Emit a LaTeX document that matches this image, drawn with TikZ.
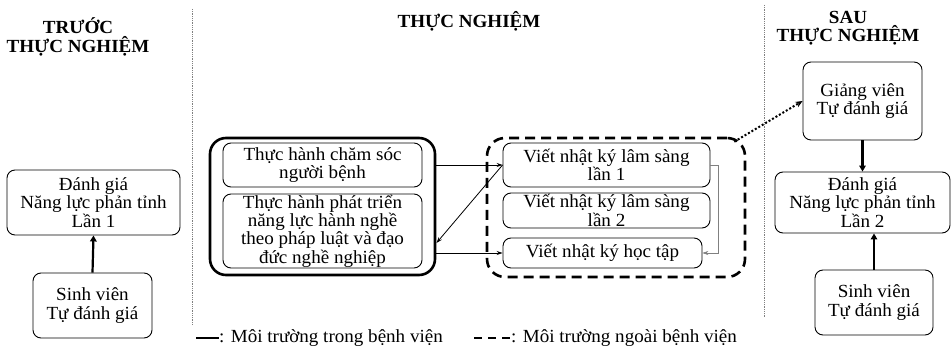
\documentclass[tikz,border=0pt]{standalone}
\usepackage{fontspec}
\setmainfont{Liberation Serif}[FakeStretch=1.03]
\usetikzlibrary{arrows.meta,calc}
\begin{document}
\begin{tikzpicture}[x=1pt,y=-1pt,
  every node/.style={font=\fontsize{18.5}{18.3}\selectfont, align=center, inner sep=0pt},
  box/.style={draw, line width=0.9pt, rounded corners=8pt},
  bigbox/.style={draw, line width=2.6pt, rounded corners=16pt},
  dashbox/.style={draw, line width=2.6pt, rounded corners=18pt, dash pattern=on 10pt off 6pt},
  title/.style={font=\fontsize{18.5}{18.3}\selectfont\bfseries},
  sep/.style={draw=gray, line width=0.8pt, densely dotted},
  thickarrow/.style={line width=2.2pt, -{Triangle[length=6pt,width=6.5pt]}},
  thinarrow/.style={line width=0.8pt, -{Stealth[length=6pt,width=4pt]}},
  greyarrow/.style={draw=gray, line width=0.5pt, -{Stealth[length=6pt,width=4pt]}},
  dotarrow/.style={line width=2pt, dotted, -{Stealth[length=7pt,width=6pt]}}
]
\useasboundingbox (0,0) rectangle (952,352);

% column separators
\coordinate (s1t) at (192,9);
\coordinate (s1b) at (192,325);
\coordinate (s2t) at (764,5);
\coordinate (s2b) at (764,317);
\draw[sep] (s1t) -- (s1b);
\draw[sep] (s2t) -- (s2b);

% column headings
\node[title] (h1) at (78,37) {TRƯỚC\\THỰC NGHIỆM};
\node[title] (h2) at (469,21) {THỰC NGHIỆM};
\node[title] (h3) at (848,28) {SAU\\THỰC NGHIỆM};

% before
\node[box, minimum width=173pt, minimum height=65pt] (dg1) at (93.5,202.5)
  {Đánh giá\\Năng lực phản tỉnh\\Lần 1};
\node[box, minimum width=119pt, minimum height=65pt] (sv1) at (92.5,305.5)
  {Sinh viên\\Tự đánh giá};
\draw[thickarrow] (sv1.north) -- (dg1.south);

% experiment: in-hospital practice
\node[bigbox, minimum width=225pt, minimum height=137pt] (outer) at (322.5,206.5) {};
\node[box, minimum width=199pt, minimum height=44pt] (p1) at (322.5,165)
  {Thực hành chăm sóc\\người bệnh};
\node[box, minimum width=199pt, minimum height=74pt] (p2) at (322.5,231)
  {Thực hành phát triển\\năng lực hành nghề\\theo pháp luật và đạo\\đức nghề nghiệp};

% experiment: outside-hospital writing
\node[dashbox, minimum width=258pt, minimum height=139pt] (outside) at (616,207.5) {};
\node[box, minimum width=207pt, minimum height=44pt] (wa) at (606.5,165)
  {Viết nhật ký lâm sàng\\lần 1};
\node[box, minimum width=207pt, minimum height=35pt] (wb) at (606.5,210.5)
  {Viết nhật ký lâm sàng\\lần 2};
\node[box, minimum width=199pt, minimum height=30pt] (wc) at (602.5,253)
  {Viết nhật ký học tập};

\draw[thinarrow] (outer.east |- wa.west) -- (wa.west);
\draw[thinarrow] (wa.west) -- ($(p2.east)+(14,12)$);
\draw[thinarrow] (outer.east |- wc.west) -- (wc.west);
\draw[greyarrow] (wa.east) -- ++(8,0) |- (wc.east);

% after
\node[box, minimum width=119pt, minimum height=78pt] (gv) at (862.5,101)
  {Giảng viên\\Tự đánh giá};
\node[box, minimum width=175pt, minimum height=61pt] (dg2) at (862.5,202.5)
  {Đánh giá\\Năng lực phản tỉnh\\Lần 2};
\node[box, minimum width=118pt, minimum height=65pt] (sv2) at (874,302.5)
  {Sinh viên\\Tự đánh giá};
\draw[thickarrow] (gv.south) -- (dg2.north);
\draw[thickarrow] (sv2.north) -- (sv2.north |- dg2.south);
\draw[dotarrow] ($(outside.north east)+(-12,5)$) -- (gv.west);

% legend
\coordinate (l1a) at (196,338);
\coordinate (l1b) at (219,338);
\draw[line width=2pt] (l1a) -- (l1b);
\node[anchor=west] (l1t) at (l1b) {: Môi trường trong bệnh viện};
\coordinate (l2a) at (474,338);
\coordinate (l2b) at (511,338);
\draw[line width=2pt, dash pattern=on 8pt off 6pt] (l2a) -- (l2b);
\node[anchor=west] (l2t) at (l2b) {: Môi trường ngoài bệnh viện};
\end{tikzpicture}
\end{document}
